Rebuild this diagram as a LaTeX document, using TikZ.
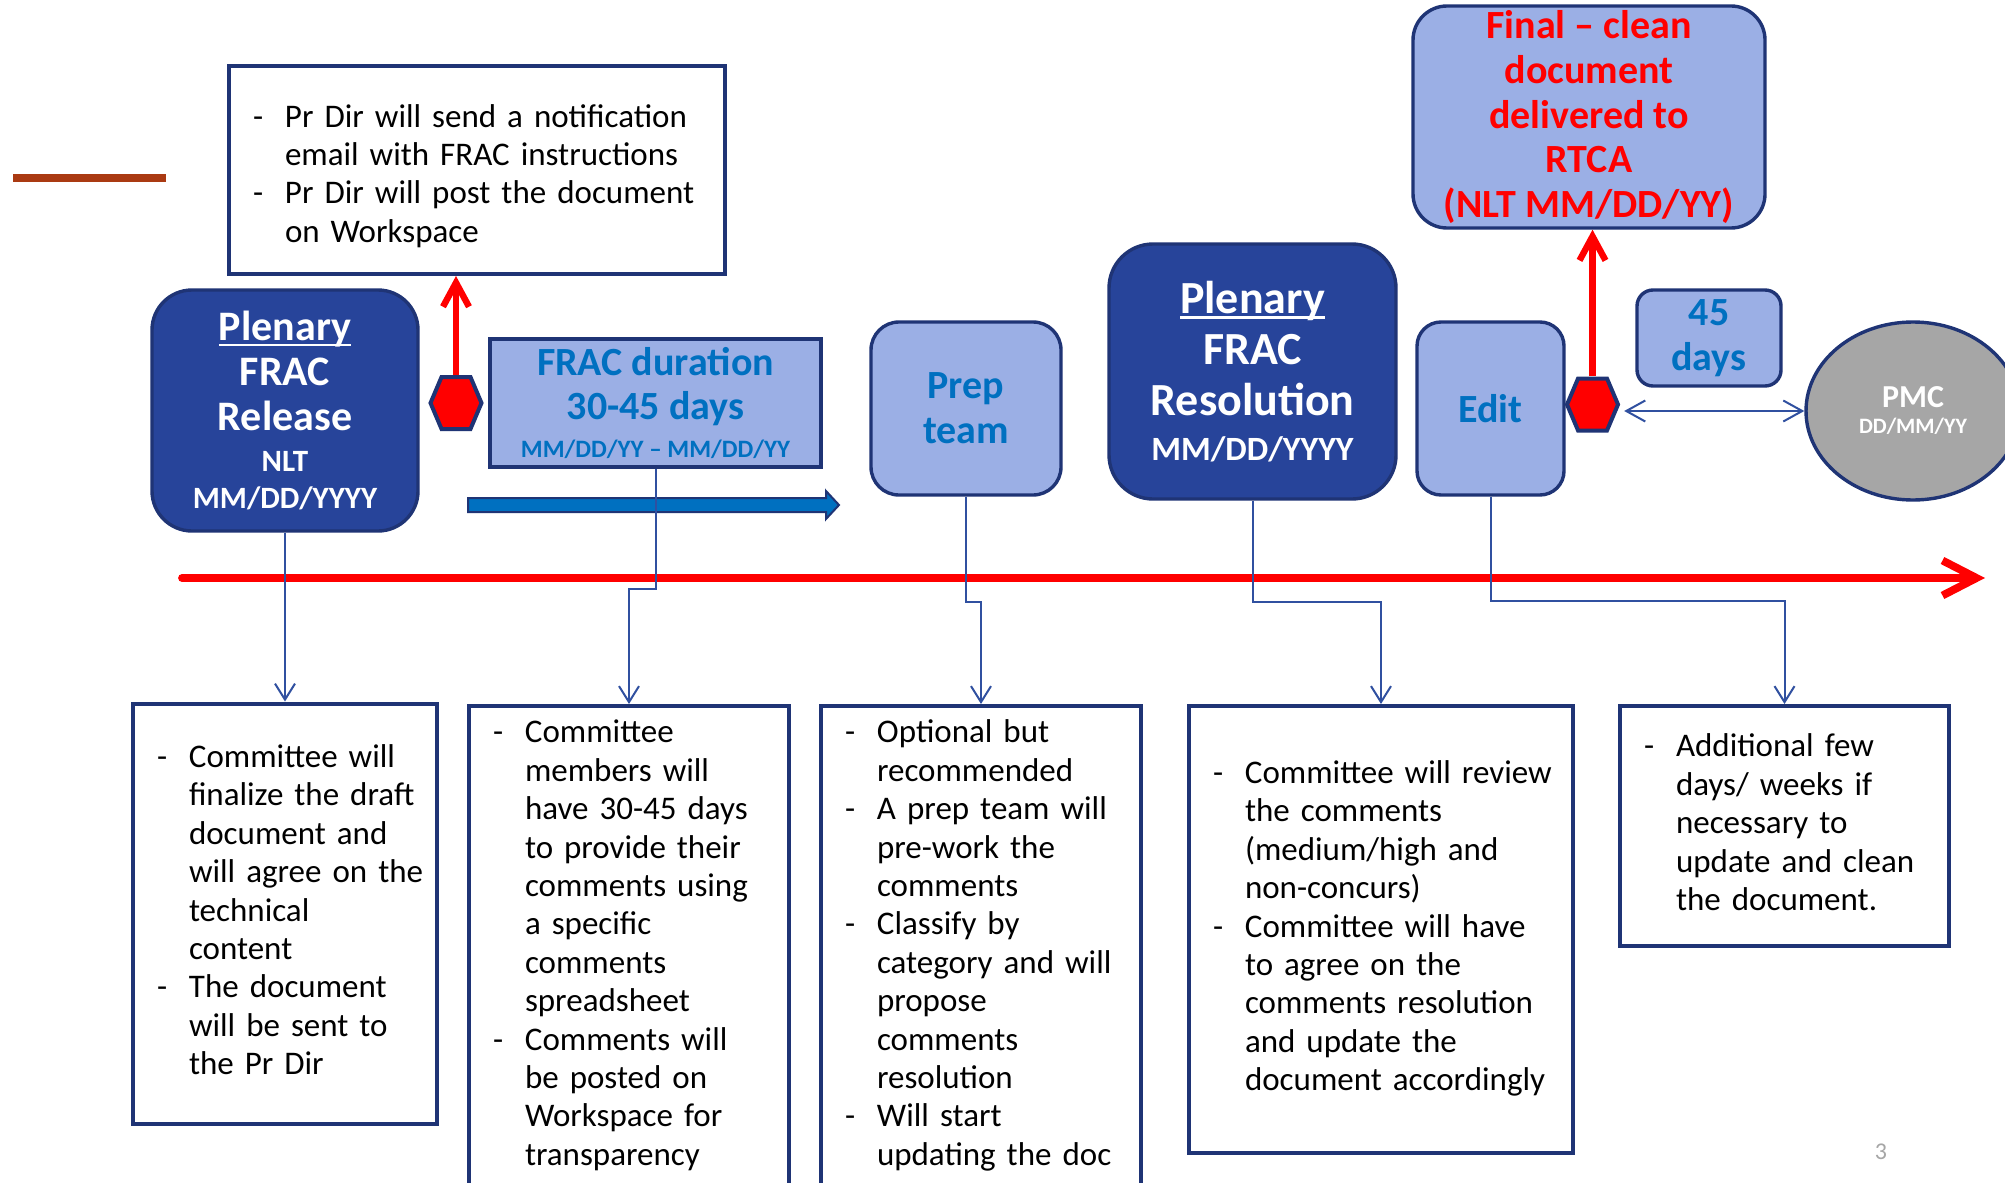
\documentclass[tikz,border=0pt]{standalone}
\usepackage{fontspec}
\setmainfont{Carlito}
\usetikzlibrary{arrows.meta,shapes.geometric,shapes.symbols}

\definecolor{navy}{HTML}{1F3475}
\definecolor{darkfill}{HTML}{27449A}
\definecolor{lightfill}{HTML}{9BAFE5}
\definecolor{textblue}{HTML}{0070C0}
\definecolor{linkblue}{HTML}{3050A0}
\definecolor{rust}{HTML}{AA3A12}
\definecolor{pmcgray}{HTML}{A6A6A6}

\def\bodysize{\fontsize{16.5}{19.2}\selectfont}
\newcommand{\ulword}[1]{\setbox0=\hbox{#1}\rlap{\rule[-2.5pt]{\wd0}{1.2pt}}\box0}
\newcommand{\dashlist}[1]{\begin{tabular}{@{}p{16pt}@{}l@{}}#1\end{tabular}}

\begin{document}
\begin{tikzpicture}[x=0.5pt,y=-0.5pt,
    textbox/.style={draw=navy,line width=2pt,fill=white,align=left,inner xsep=12pt,inner ysep=0pt,font=\bodysize},
    darkbox/.style={draw=navy,line width=1.7pt,fill=darkfill,text=white,align=center,inner sep=0pt},
    lightbox/.style={draw=navy,line width=1.7pt,fill=lightfill,text=textblue,align=center,inner sep=0pt},
    hexmark/.style={signal,signal to=east and west,signal pointer angle=134,draw=navy,line width=2pt,fill=red,minimum width=25.5pt,minimum height=26pt,inner sep=0pt},
    link/.style={draw=linkblue,line width=1pt,-{Straight Barb[length=8pt,width=10pt]}},
    redup/.style={draw=red,line width=3.2pt,-{Straight Barb[length=12pt,width=13pt]}},
    timeline/.style={draw=red,line width=3.9pt,line cap=round,-{Straight Barb[length=17pt,width=17.5pt]}}]
        \useasboundingbox (0,0) rectangle (2005,1182);
        \clip (0,0) rectangle (2005,1182);
        \fill[white] (0,0) rectangle (2005,1182);
        % accent bar
        \draw[rust,line width=4pt] (13,178) -- (166,178);
        % notification box
        \node[textbox,text width=224pt,minimum height=104pt] (note) at (477,170)
            {\raisebox{-3.5pt}[\height][\depth]{\dashlist{- & Pr Dir will send a notification\\ & email with FRAC instructions\\ - & Pr Dir will post the document\\ & on Workspace}}};
        % upper row of steps
        \node[darkbox,rounded corners=20pt,minimum width=133pt,minimum height=120.5pt,font=\bfseries\fontsize{21}{22.4}\selectfont] (rel) at (285,410.5)
            {\ulword{Plenary}\\FRAC\\Release\\[-2pt]{\fontsize{15.5}{18}\selectfont NLT}\\[-4pt]{\fontsize{15.5}{18}\selectfont MM/DD/YYYY}};
        \node[hexmark] (hexa) at (456,403) {};
        \node[lightbox,minimum width=165.5pt,minimum height=64pt,font=\bfseries\fontsize{20}{22}\selectfont] (dur) at (655.5,403)
            {FRAC duration\\30-45 days\\[-3pt]{\fontsize{12.5}{14}\selectfont MM/DD/YY \textendash{} MM/DD/YY}};
        \node[lightbox,rounded corners=14pt,minimum width=95pt,minimum height=86.5pt,font=\bfseries\fontsize{20}{22.4}\selectfont] (prep) at (966,408.5)
            {Prep\\team};
        \node[darkbox,rounded corners=22pt,minimum width=143.5pt,minimum height=127.5pt,font=\bfseries\fontsize{23}{25.6}\selectfont] (res) at (1252.5,371.5)
            {\ulword{Plenary}\\FRAC\\Resolution\\[-3.5pt]{\fontsize{17}{20}\selectfont MM/DD/YYYY}};
        \node[lightbox,rounded corners=12pt,minimum width=73.5pt,minimum height=86.5pt,font=\bfseries\fontsize{20}{24}\selectfont] (edit) at (1490.5,408.5)
            {Edit};
        \node[hexmark] (hexb) at (1592.5,404.5) {};
        \node[lightbox,rounded corners=8pt,minimum width=72pt,minimum height=48pt,font=\bfseries\fontsize{20}{22.5}\selectfont] (days) at (1709,338)
            {45\\days};
        \node[lightbox,rounded corners=17pt,text=red,minimum width=176pt,minimum height=111pt,font=\bfseries\fontsize{20}{22.4}\selectfont] (final) at (1589,117)
            {Final \textendash{} clean\\document\\delivered to\\RTCA\\(NLT MM/DD/YY)};
        \node[ellipse,draw=navy,line width=1.7pt,fill=pmcgray,text=white,align=center,inner sep=0pt,minimum width=107pt,minimum height=89pt,font=\bfseries] (pmc) at (1913,411)
            {{\fontsize{16}{19}\selectfont PMC}\\[1pt]{\fontsize{11}{13}\selectfont DD/MM/YY}};
        % timeline
        \coordinate (tl0) at (182,578);
        \coordinate (tl1) at (1985,578);
        \draw[timeline] (tl0) -- (tl1);
        % duration arrow
        \filldraw[fill=textblue,draw=navy,line width=1pt] (468,498) -- (826,498) -- (826,491) -- (839,505) -- (826,519) -- (826,512) -- (468,512) -- cycle;
        % lower row of notes
        \node[textbox,text width=128pt,minimum height=210pt] (c1) at (285,913.5)
            {\dashlist{- & Committee will\\ & finalize the draft\\ & document and\\ & will agree on the\\ & technical\\ & content\\ - & The document\\ & will be sent to\\ & the Pr Dir}};
        \node[textbox,text width=136pt,minimum height=240.5pt] (c2) at (629,946.5)
            {\dashlist{- & Committee\\ & members will\\ & have 30-45 days\\ & to provide their\\ & comments using\\ & a specific\\ & comments\\ & spreadsheet\\ - & Comments will\\ & be posted on\\ & Workspace for\\ & transparency}};
        \node[textbox,text width=136pt,minimum height=240.5pt] (c3) at (981,946.5)
            {\dashlist{- & Optional but\\ & recommended\\ - & A prep team will\\ & pre-work the\\ & comments\\ - & Classify by\\ & category and will\\ & propose\\ & comments\\ & resolution\\ - & Will start\\ & updating the doc}};
        \node[textbox,text width=168pt,minimum height=223.5pt] (c4) at (1381,929.5)
            {\dashlist{- & Committee will review\\ & the comments\\ & (medium/high and\\ & non-concurs)\\ - & Committee will have\\ & to agree on the\\ & comments resolution\\ & and update the\\ & document accordingly}};
        \node[textbox,text width=140.5pt,minimum height=120pt] (c5) at (1784.5,826)
            {\dashlist{- & Additional few\\ & days/ weeks if\\ & necessary to\\ & update and clean\\ & the document.}};
        % connectors
        \draw[link] (rel.south) -- (c1.north);
        \draw[link] (dur.south) -- ++(0,120) -| (c2.north);
        \draw[link] (prep.south) -- ++(0,105) -| (c3.north);
        \draw[link] (res.south) -- ++(0,101) -| (c4.north);
        \draw[link] (edit.south) -- ++(0,104) -| (c5.north);
        % milestone arrows
        \draw[redup] (hexa.90) -- (hexa.90 |- note.south);
        \draw[redup] (hexb.90) -- (hexb.90 |- final.south);
        \draw[draw=linkblue,line width=1pt,{Straight Barb[length=9.5pt,width=10.5pt]}-{Straight Barb[length=9.5pt,width=10.5pt]},shorten <=2pt] (hexb.east |- pmc.west) -- (pmc.west);
        % page number
        \node[text=pmcgray,font=\fontsize{12}{14}\selectfont] (pagenum) at (1881,1152) {3};
\end{tikzpicture}
\end{document}
